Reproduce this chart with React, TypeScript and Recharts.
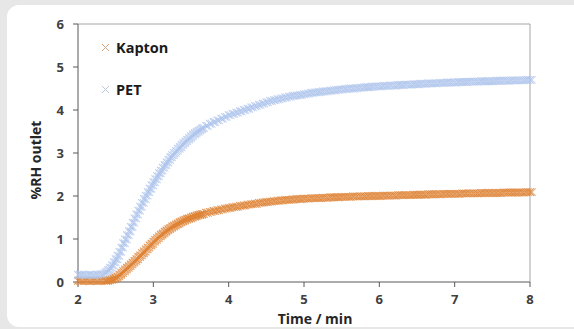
import React from 'react';
import { ScatterChart, Scatter, XAxis, YAxis, ReferenceLine } from 'recharts';

const times = [
  2.0, 2.05, 2.1, 2.15, 2.2, 2.25, 2.3, 2.35,
  2.375, 2.4, 2.425, 2.45, 2.475, 2.5,
  2.525, 2.55, 2.575, 2.6, 2.625, 2.65, 2.675, 2.7, 2.725, 2.75,
  2.775, 2.8, 2.825, 2.85, 2.875, 2.9, 2.925, 2.95, 2.975, 3.0,
  3.025, 3.05, 3.075, 3.1, 3.125, 3.15, 3.175, 3.2, 3.225, 3.25,
  3.275, 3.3, 3.325, 3.35, 3.375, 3.4, 3.425, 3.45, 3.475, 3.5,
  3.525, 3.55, 3.575, 3.6, 3.625, 3.65,
  3.7, 3.75, 3.8, 3.85, 3.9, 3.95,
  4.0, 4.05, 4.1, 4.15, 4.2, 4.25, 4.3, 4.35, 4.4, 4.45,
  4.5, 4.55, 4.6, 4.65, 4.7, 4.75, 4.8, 4.85, 4.9, 4.95,
  5.0, 5.05, 5.1, 5.15, 5.2, 5.25, 5.3, 5.35, 5.4, 5.45,
  5.5, 5.55, 5.6, 5.65, 5.7, 5.75, 5.8, 5.85, 5.9, 5.95,
  6.0, 6.05, 6.1, 6.15, 6.2, 6.25, 6.3, 6.35, 6.4, 6.45,
  6.5, 6.55, 6.6, 6.65, 6.7, 6.75, 6.8, 6.85, 6.9, 6.95,
  7.0, 7.05, 7.1, 7.15, 7.2, 7.25, 7.3, 7.35, 7.4, 7.45,
  7.5, 7.55, 7.6, 7.65, 7.7, 7.75, 7.8, 7.85, 7.9, 7.95,
  8.0,
];

const kapton = [
  0.03, 0.02, 0.03, 0.02, 0.03, 0.02, 0.03, 0.03,
  0.03, 0.04, 0.05, 0.06, 0.08, 0.1,
  0.13, 0.17, 0.21, 0.25, 0.29, 0.33, 0.37, 0.41, 0.45, 0.49,
  0.53, 0.58, 0.62, 0.67, 0.71, 0.76, 0.8, 0.85, 0.89, 0.94,
  0.98, 1.02, 1.06, 1.1, 1.13, 1.17, 1.2, 1.23, 1.26, 1.29,
  1.31, 1.34, 1.36, 1.39, 1.41, 1.43, 1.45, 1.47, 1.48, 1.5,
  1.52, 1.53, 1.55, 1.56, 1.57, 1.58,
  1.61, 1.63, 1.65, 1.67, 1.69, 1.71,
  1.72, 1.74, 1.75, 1.77, 1.78, 1.8, 1.81, 1.82, 1.84, 1.85,
  1.86, 1.87, 1.88, 1.89, 1.9, 1.91, 1.91, 1.92, 1.93, 1.93,
  1.94, 1.94, 1.95, 1.95, 1.95, 1.96, 1.96, 1.97, 1.97, 1.97,
  1.98, 1.98, 1.98, 1.99, 1.99, 1.99, 1.99, 2.0, 2.0, 2.0,
  2.0, 2.01, 2.01, 2.01, 2.01, 2.02, 2.02, 2.02, 2.02, 2.03,
  2.03, 2.03, 2.03, 2.04, 2.04, 2.04, 2.04, 2.05, 2.05, 2.05,
  2.05, 2.05, 2.06, 2.06, 2.06, 2.06, 2.06, 2.07, 2.07, 2.07,
  2.07, 2.07, 2.07, 2.08, 2.08, 2.08, 2.08, 2.08, 2.08, 2.09,
  2.09,
];

const pet = [
  0.17, 0.17, 0.16, 0.17, 0.16, 0.17, 0.18, 0.2,
  0.24, 0.28, 0.33, 0.39, 0.46, 0.53,
  0.61, 0.7, 0.8, 0.9, 0.99, 1.09, 1.18, 1.28, 1.38, 1.48,
  1.57, 1.66, 1.75, 1.84, 1.93, 2.01, 2.09, 2.17, 2.25, 2.32,
  2.39, 2.46, 2.53, 2.59, 2.66, 2.72, 2.78, 2.84, 2.9, 2.95,
  3.0, 3.05, 3.1, 3.14, 3.19, 3.23, 3.27, 3.31, 3.35, 3.39,
  3.43, 3.46, 3.49, 3.52, 3.55, 3.58,
  3.63, 3.68, 3.72, 3.76, 3.8, 3.84,
  3.88, 3.91, 3.94, 3.97, 4.0, 4.03, 4.06, 4.09, 4.12, 4.15,
  4.18, 4.21, 4.23, 4.25, 4.27, 4.29, 4.31, 4.33, 4.34, 4.35,
  4.37, 4.38, 4.4, 4.41, 4.42, 4.43, 4.44, 4.45, 4.46, 4.47,
  4.48, 4.49, 4.5, 4.5, 4.51, 4.52, 4.53, 4.53, 4.54, 4.55,
  4.55, 4.56, 4.56, 4.57, 4.57, 4.58, 4.58, 4.59, 4.59, 4.6,
  4.6, 4.61, 4.61, 4.62, 4.62, 4.62, 4.63, 4.63, 4.64, 4.64,
  4.64, 4.65, 4.65, 4.65, 4.66, 4.66, 4.66, 4.67, 4.67, 4.67,
  4.67, 4.68, 4.68, 4.68, 4.68, 4.69, 4.69, 4.69, 4.69, 4.7,
  4.7,
];

const xTicks = [2, 3, 4, 5, 6, 7, 8];
const yTicks = [0, 1, 2, 3, 4, 5, 6];
const seriesNames = ['Kapton', 'PET'];

const KAPTON_COLOR = '#DE8335';
const PET_COLOR = '#AFC5EC';
const FONT = '"Open Sans", "DejaVu Sans", sans-serif';

const kaptonData = times.map((t, i) => ({ x: t, y: kapton[i] }));
const petData = times.map((t, i) => ({ x: t, y: pet[i] }));

const crossPath = (cx: number, cy: number, r: number) =>
  `M${cx - r},${cy - r}L${cx + r},${cy + r}M${cx - r},${cy + r}L${cx + r},${cy - r}`;

const makeCross = (color: string) => (props: any) => {
  const { cx, cy } = props;
  if (cx == null || cy == null) return <g />;
  return (
    <g>
      <path d={crossPath(cx, cy, 3.8)} stroke={color} strokeWidth={1.1} strokeOpacity={0.85} fill="none" />
      <path d={crossPath(cx + 1.8, cy, 3.8)} stroke={color} strokeWidth={1.1} strokeOpacity={0.7} fill="none" />
    </g>
  );
};

const legendColors = ['#D9A47A', '#BCC8DC'];

function LegendBox() {
  return (
    <svg width={120} height={80} style={{ position: 'absolute', left: 95, top: 30, display: 'block' }}>
      {seriesNames.map((name, i) => {
        const cy = 17.5 + i * 42;
        const cx = 10.5;
        return (
          <g key={name}>
            <path d={crossPath(cx, cy, 3.5)} stroke={legendColors[i]} strokeWidth={1} fill="none" />
            <text x={21} y={cy + 5} fontFamily={FONT} fontWeight={700} fontSize={14.5} fill="#1a1a1a">
              {name}
            </text>
          </g>
        );
      })}
    </svg>
  );
}

export default function App() {
  return (
    <div style={{ position: 'fixed', left: 0, top: 0, width: 574, height: 329, background: '#e6e7e6', overflow: 'hidden' }}>
      <div style={{ position: 'absolute', left: 7, top: 5, width: 590, height: 322, background: '#ffffff', borderRadius: 12 }} />
      <div style={{ position: 'absolute', left: 0, top: 0 }}>
        <ScatterChart width={574} height={329} margin={{ top: 24, right: 44, bottom: 7, left: 38 }}>
          <XAxis
            type="number"
            dataKey="x"
            domain={[2, 8]}
            ticks={xTicks}
            interval={0}
            height={40}
            axisLine={{ stroke: '#595959', strokeWidth: 1 }}
            tickLine={{ stroke: '#595959' }}
            tickSize={5}
            tickMargin={8}
            tick={{ fill: '#404040', fontSize: 13, fontWeight: 700, fontFamily: FONT }}
            label={{
              content: () => (
                <text x={315} y={324} textAnchor="middle" fontFamily={FONT} fontWeight={700} fontSize={14} fill="#262626">
                  Time / min
                </text>
              ),
            }}
          />
          <YAxis
            type="number"
            dataKey="y"
            domain={[0, 6]}
            ticks={yTicks}
            interval={0}
            width={40}
            axisLine={{ stroke: '#595959', strokeWidth: 1 }}
            tickLine={{ stroke: '#595959' }}
            tickSize={5}
            tickMargin={9}
            tick={{ fill: '#404040', fontSize: 13, fontWeight: 700, fontFamily: FONT }}
            label={{
              content: () => (
                <text
                  x={41}
                  y={160}
                  transform="rotate(-90 41 160)"
                  textAnchor="middle"
                  fontFamily={FONT}
                  fontWeight={700}
                  fontSize={14}
                  fill="#262626"
                >
                  %RH outlet
                </text>
              ),
            }}
          />
          <ReferenceLine y={6} stroke="#a6a6a6" strokeWidth={1} />
          <ReferenceLine x={8} stroke="#a6a6a6" strokeWidth={1} />
          <Scatter name="Kapton" data={kaptonData} shape={makeCross(KAPTON_COLOR)} isAnimationActive={false} />
          <Scatter name="PET" data={petData} shape={makeCross(PET_COLOR)} isAnimationActive={false} />
        </ScatterChart>
      </div>
      <LegendBox />
    </div>
  );
}
